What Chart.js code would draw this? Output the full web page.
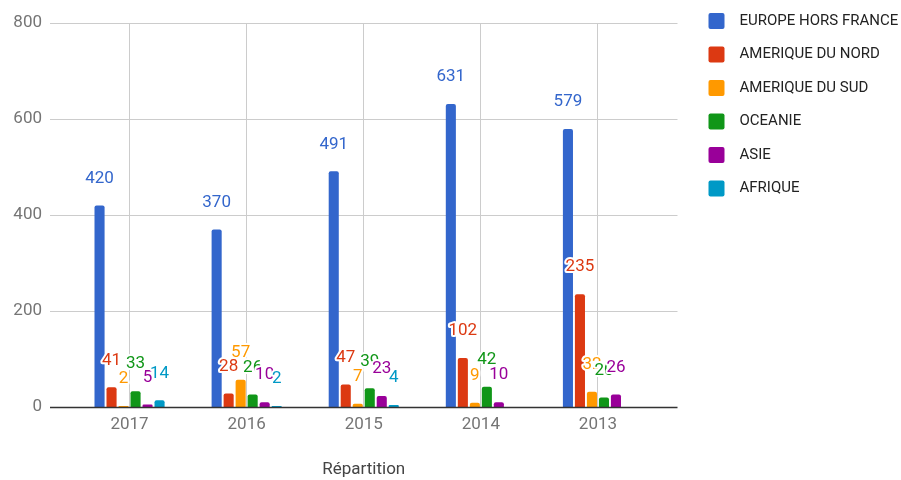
<!DOCTYPE html>
<html>
<head>
<meta charset="utf-8">
<script src="https://cdn.jsdelivr.net/npm/chart.js@4"></script>
<style>
  body { margin: 0; background: #fff; }
  #wrap { width: 901px; height: 480px; position: relative; }
</style>
</head>
<body>
<div id="wrap"><canvas id="chart"></canvas></div>
<script>
// données
const categories = ['2017', '2016', '2015', '2014', '2013'];
const seriesNames = ['EUROPE HORS FRANCE', 'AMERIQUE DU NORD', 'AMERIQUE DU SUD', 'OCEANIE', 'ASIE', 'AFRIQUE'];
const europe = [420, 370, 491, 631, 579];
const ameriqueNord = [41, 28, 47, 102, 235];
const ameriqueSud = [2, 57, 7, 9, 32];
const oceanie = [33, 26, 39, 42, 20];
const asie = [5, 10, 23, 10, 26];
const afrique = [14, 2, 4, null, null];
const colors = ['#3366cc', '#dc3912', '#ff9900', '#109618', '#990099', '#0099c6'];
const yMax = 800;
const yStep = 200;
const xTitle = 'Répartition';

const values = [europe, ameriqueNord, ameriqueSud, oceanie, asie, afrique];
const FONT = 'Roboto';

// lignes horizontales (plus larges que la zone du graphe)
const gridPlugin = {
  id: 'hgrid',
  beforeDatasetsDraw(chart) {
    const { ctx, chartArea: a, scales: { y } } = chart;
    ctx.save();
    ctx.lineWidth = 1;
    y.ticks.forEach(t => {
      if (t.value === 0) return;
      const py = Math.round(y.getPixelForValue(t.value)) + 0.5;
      ctx.strokeStyle = '#cccccc';
      ctx.beginPath();
      ctx.moveTo(a.left - 21, py);
      ctx.lineTo(a.right + 21, py);
      ctx.stroke();
    });
    ctx.restore();
  },
  afterDatasetsDraw(chart) {
    const { ctx, chartArea: a, scales: { y } } = chart;
    ctx.save();
    const py = Math.round(y.getPixelForValue(0)) + 0.5;
    ctx.strokeStyle = '#333333';
    ctx.lineWidth = 1.3;
    ctx.beginPath();
    ctx.moveTo(a.left - 21, py);
    ctx.lineTo(a.right + 21, py);
    ctx.stroke();

    // étiquettes de valeurs
    ctx.font = '17px ' + FONT;
    ctx.textAlign = 'center';
    ctx.textBaseline = 'middle';
    ctx.lineJoin = 'round';
    chart.data.datasets.forEach((ds, i) => {
      const meta = chart.getDatasetMeta(i);
      meta.data.forEach((bar, j) => {
        const v = ds.data[j];
        if (v === null || v === undefined) return;
        const ly = bar.y - 27;
        ctx.strokeStyle = '#ffffff';
        ctx.lineWidth = 4;
        ctx.strokeText(String(v), bar.x, ly);
        ctx.fillStyle = ds.backgroundColor;
        ctx.fillText(String(v), bar.x, ly);
      });
    });
    ctx.restore();
  }
};

// légende à droite
const legendPlugin = {
  id: 'sideLegend',
  afterDraw(chart) {
    const { ctx, chartArea: a } = chart;
    const x0 = a.right + 52;
    ctx.save();
    ctx.font = '15px ' + FONT;
    ctx.textBaseline = 'middle';
    ctx.textAlign = 'left';
    chart.data.datasets.forEach((ds, i) => {
      const yc = 21 + i * 33.5;
      ctx.fillStyle = ds.backgroundColor;
      ctx.beginPath();
      ctx.roundRect(x0, yc - 8, 16, 16, 2);
      ctx.fill();
      ctx.fillStyle = '#222222';
      ctx.fillText(ds.label, x0 + 31, yc);
    });
    ctx.restore();
  }
};

new Chart(document.getElementById('chart'), {
  type: 'bar',
  data: {
    labels: categories,
    datasets: seriesNames.map((name, i) => ({
      label: name,
      data: values[i],
      backgroundColor: colors[i],
      borderRadius: { topLeft: 2, topRight: 2 },
      borderSkipped: 'bottom',
      categoryPercentage: 0.615,
      barPercentage: 0.84
    }))
  },
  options: {
    responsive: true,
    maintainAspectRatio: false,
    animation: false,
    layout: { padding: { top: 23, right: 244.5, bottom: 0, left: 0 } },
    plugins: {
      legend: { display: false },
      tooltip: { enabled: false }
    },
    scales: {
      x: {
        offset: true,
        grid: { offset: false, color: '#cccccc', drawTicks: false },
        border: { display: false },
        ticks: { color: '#757575', font: { family: FONT, size: 17 }, padding: 8, autoSkip: false, maxRotation: 0 },
        title: { display: true, text: xTitle, color: '#444444', font: { family: FONT, size: 17 }, padding: { top: 0, bottom: 0 } },
        afterFit: s => { s.height = 73; s.paddingLeft = 0; s.paddingRight = 0; }
      },
      y: {
        min: 0,
        max: yMax,
        grid: { display: false },
        border: { display: false },
        ticks: { stepSize: yStep, color: '#757575', font: { family: FONT, size: 17 }, padding: 21 },
        afterFit: s => { s.width = 71; s.paddingTop = 0; s.paddingBottom = 0; }
      }
    }
  },
  plugins: [gridPlugin, legendPlugin]
});
</script>
</body>
</html>
